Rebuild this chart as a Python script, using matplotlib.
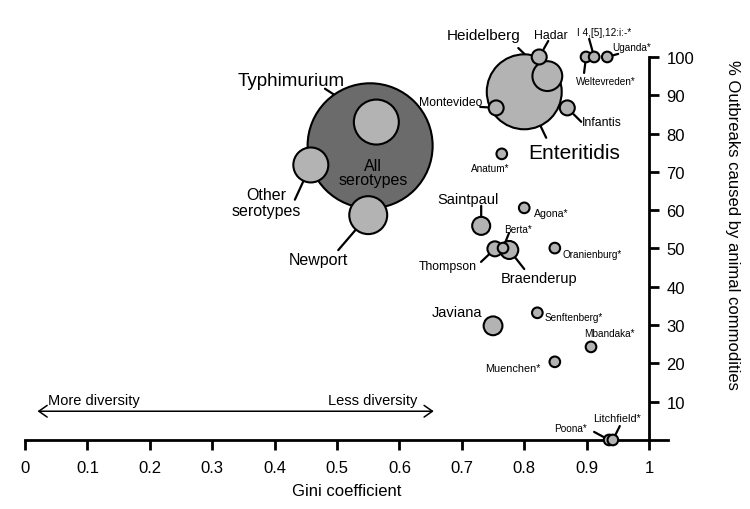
import numpy as np
import matplotlib
matplotlib.use("Agg")
import matplotlib.pyplot as plt

plt.rcParams["font.family"] = ["Liberation Sans", "DejaVu Sans"]

# serotypes (bubble area ~ number of outbreaks, estimated)
serotypes = [
    "All serotypes", "Enteritidis", "Typhimurium", "Newport", "Other serotypes",
    "Heidelberg", "Javiana", "Saintpaul", "Braenderup", "Hadar", "Montevideo",
    "Infantis", "Thompson", "Anatum*", "Weltevreden*", "I 4,[5],12:i:-*",
    "Uganda*", "Agona*", "Berta*", "Oranienburg*", "Senftenberg*", "Mbandaka*",
    "Muenchen*", "Poona*", "Litchfield*",
]
gini = [
    0.553, 0.800, 0.563, 0.550, 0.458,
    0.837, 0.750, 0.731, 0.776, 0.824, 0.755,
    0.869, 0.753, 0.764, 0.899, 0.912,
    0.933, 0.800, 0.766, 0.849, 0.821, 0.907,
    0.849, 0.936, 0.942,
]
pct_animal = [
    76.8, 90.9, 83.0, 58.7, 71.8,
    95.0, 29.8, 55.9, 49.6, 100, 86.7,
    86.7, 49.9, 74.7, 100, 100,
    100, 60.6, 50.1, 50.1, 33.2, 24.3,
    20.4, 0, 0,
]
outbreaks = [
    1000, 367, 137, 99, 85,
    63, 27, 25, 25, 18, 18,
    18, 18, 10, 10, 10,
    10, 10, 10, 10, 10, 10,
    10, 10, 10,
]

xtick_values = np.arange(0, 11) / 10
xtick_labels = ["0", "0.1", "0.2", "0.3", "0.4", "0.5", "0.6", "0.7", "0.8", "0.9", "1"]
ytick_values = list(range(10, 101, 10))

# label placement (offset from bubble centre, points) and font size
label_off = {
    "All serotypes": (2, -19), "Enteritidis": (36, -44), "Typhimurium": (-61, 30),
    "Newport": (-36, -32), "Other serotypes": (-32, -27), "Heidelberg": (-46, 29.5),
    "Javiana": (-26, 10), "Saintpaul": (-9.4, 19.4), "Braenderup": (21.6, -20.2),
    "Hadar": (8.6, 15.8), "Montevideo": (-33, 4.3), "Infantis": (24.5, -10),
    "Thompson": (-33.8, -12.2), "Anatum*": (-8.6, -10), "Weltevreden*": (14.4, -17.3),
    "I 4,[5],12:i:-*": (7.2, 18), "Uganda*": (17.3, 7.2), "Agona*": (19.4, -3.6),
    "Berta*": (10.8, 13.7), "Oranienburg*": (26.6, -4.3), "Senftenberg*": (26, -2.9),
    "Mbandaka*": (13, 10), "Muenchen*": (-30, -4.3), "Poona*": (-28, 8.6),
    "Litchfield*": (2.9, 15.8),
}
label_size = {
    "All serotypes": 11.5, "Enteritidis": 15, "Typhimurium": 13.5, "Newport": 11.5,
    "Other serotypes": 11.5, "Heidelberg": 11, "Javiana": 10.5, "Saintpaul": 10.5,
    "Braenderup": 10.5, "Hadar": 8.8, "Montevideo": 8.8, "Infantis": 8.8,
    "Thompson": 8.8, "Litchfield*": 7.8, "Muenchen*": 7.8, "Agona*": 7.6,
}
display_text = {"All serotypes": "All\nserotypes", "Other serotypes": "Other\nserotypes"}
# leader lines: outer end offset (points) and gap from the bubble centre
leaders = {
    "Typhimurium": (-37, 24, 17), "Other serotypes": (-11.5, -25, 13),
    "Newport": (-21.6, -25.2, 14), "Enteritidis": (15.8, -33.1, 27),
    "Heidelberg": (-20.9, 20.2, 16), "Hadar": (6.5, 11.5, 6.5),
    "Montevideo": (-11.5, 0.7, 6), "Infantis": (10, -10, 6.5),
    "I 4,[5],12:i:-*": (-3.6, 13, 4.3), "Weltevreden*": (-1.4, -11.5, 4.3),
    "Uganda*": (7.9, 2.2, 4.3), "Saintpaul": (0, 14.4, 7.2),
    "Thompson": (-10, -9.4, 6), "Berta*": (4.3, 10.8, 4.3),
    "Braenderup": (10.8, -13.7, 7), "Poona*": (-10.8, 5.8, 4.7),
    "Litchfield*": (5, 10, 4.7),
}

DARK = "#6b6b6b"
LIGHT = "#b3b3b3"
EDGE_LW = 1.5

fig = plt.figure(figsize=(7.5, 5.1), dpi=100)
ax = fig.add_axes([0.0084, 0.0753, 0.9818, 0.9162])
ax.set_xlim(-0.03, 1.15)
ax.set_ylim(-8, 114)

x = np.array(gini)
y = np.array(pct_animal)
n = np.array(outbreaks, dtype=float)
diam_pt = 4.02 * np.sqrt(n) * 0.72 - EDGE_LW
sizes = diam_pt ** 2
colors = [DARK if s == "All serotypes" else LIGHT for s in serotypes]

order = np.argsort(-n, kind="stable")
ax.scatter(x[order], y[order], s=sizes[order], c=[colors[i] for i in order],
           edgecolors="black", linewidths=EDGE_LW, zorder=3, clip_on=False)

for name, gx, gy in zip(serotypes, gini, pct_animal):
    dx, dy = label_off[name]
    ax.annotate(display_text.get(name, name), (gx, gy), xytext=(dx, dy),
                textcoords="offset points", ha="center", va="center",
                fontsize=label_size.get(name, 7.2), zorder=4,
                linespacing=0.95 if name == "All serotypes" else 1.05,
                annotation_clip=False)
    if name in leaders:
        lx, ly, gap = leaders[name]
        ax.annotate("", (gx, gy), xytext=(lx, ly), textcoords="offset points",
                    arrowprops=dict(arrowstyle="-", lw=1.6, color="black",
                                    shrinkA=0, shrinkB=gap),
                    zorder=2, annotation_clip=False)

# diversity arrow
ax.annotate("", xy=(0.02, 7.5), xytext=(0.655, 7.5),
            arrowprops=dict(arrowstyle="<->,head_length=0.5,head_width=0.35",
                            lw=1.1, color="black", shrinkA=0, shrinkB=0,
                            mutation_scale=12))
ax.text(0.11, 10.5, "More diversity", ha="center", va="center", fontsize=10.5)
ax.text(0.557, 10.5, "Less diversity", ha="center", va="center", fontsize=10.5)

# axes: x axis along y=0, y axis standing at x=1
for side in ("top", "left"):
    ax.spines[side].set_visible(False)
ax.spines["bottom"].set_position(("data", 0))
ax.spines["bottom"].set_bounds(0, 1.03)
ax.spines["right"].set_position(("data", 1))
ax.spines["right"].set_bounds(0, 100)
for side in ("bottom", "right"):
    ax.spines[side].set_linewidth(2)
    ax.spines[side].set_zorder(2.5)

ax.xaxis.set_ticks_position("bottom")
ax.yaxis.set_ticks_position("right")
ax.set_xticks(xtick_values)
ax.set_xticklabels(xtick_labels)
ax.set_yticks(ytick_values)
ax.tick_params(direction="out", length=7.5, width=2, labelsize=12)
ax.tick_params(axis="x", pad=7)
ax.tick_params(axis="y", pad=5)

ax.set_xlabel("Gini coefficient", fontsize=12)
ax.xaxis.set_label_coords((0.516 + 0.03) / 1.18, (-13.3 + 8) / 122)
ax.xaxis.label.set_va("center")
ax.yaxis.set_label_position("right")
ax.set_ylabel("% Outbreaks caused by animal commodities", fontsize=12, rotation=-90)
ax.yaxis.set_label_coords(0.986, (56.4 + 8) / 122)
ax.yaxis.label.set_va("center")
ax.yaxis.label.set_ha("center")

fig.savefig("out.png", dpi=100)
plt.close(fig)
